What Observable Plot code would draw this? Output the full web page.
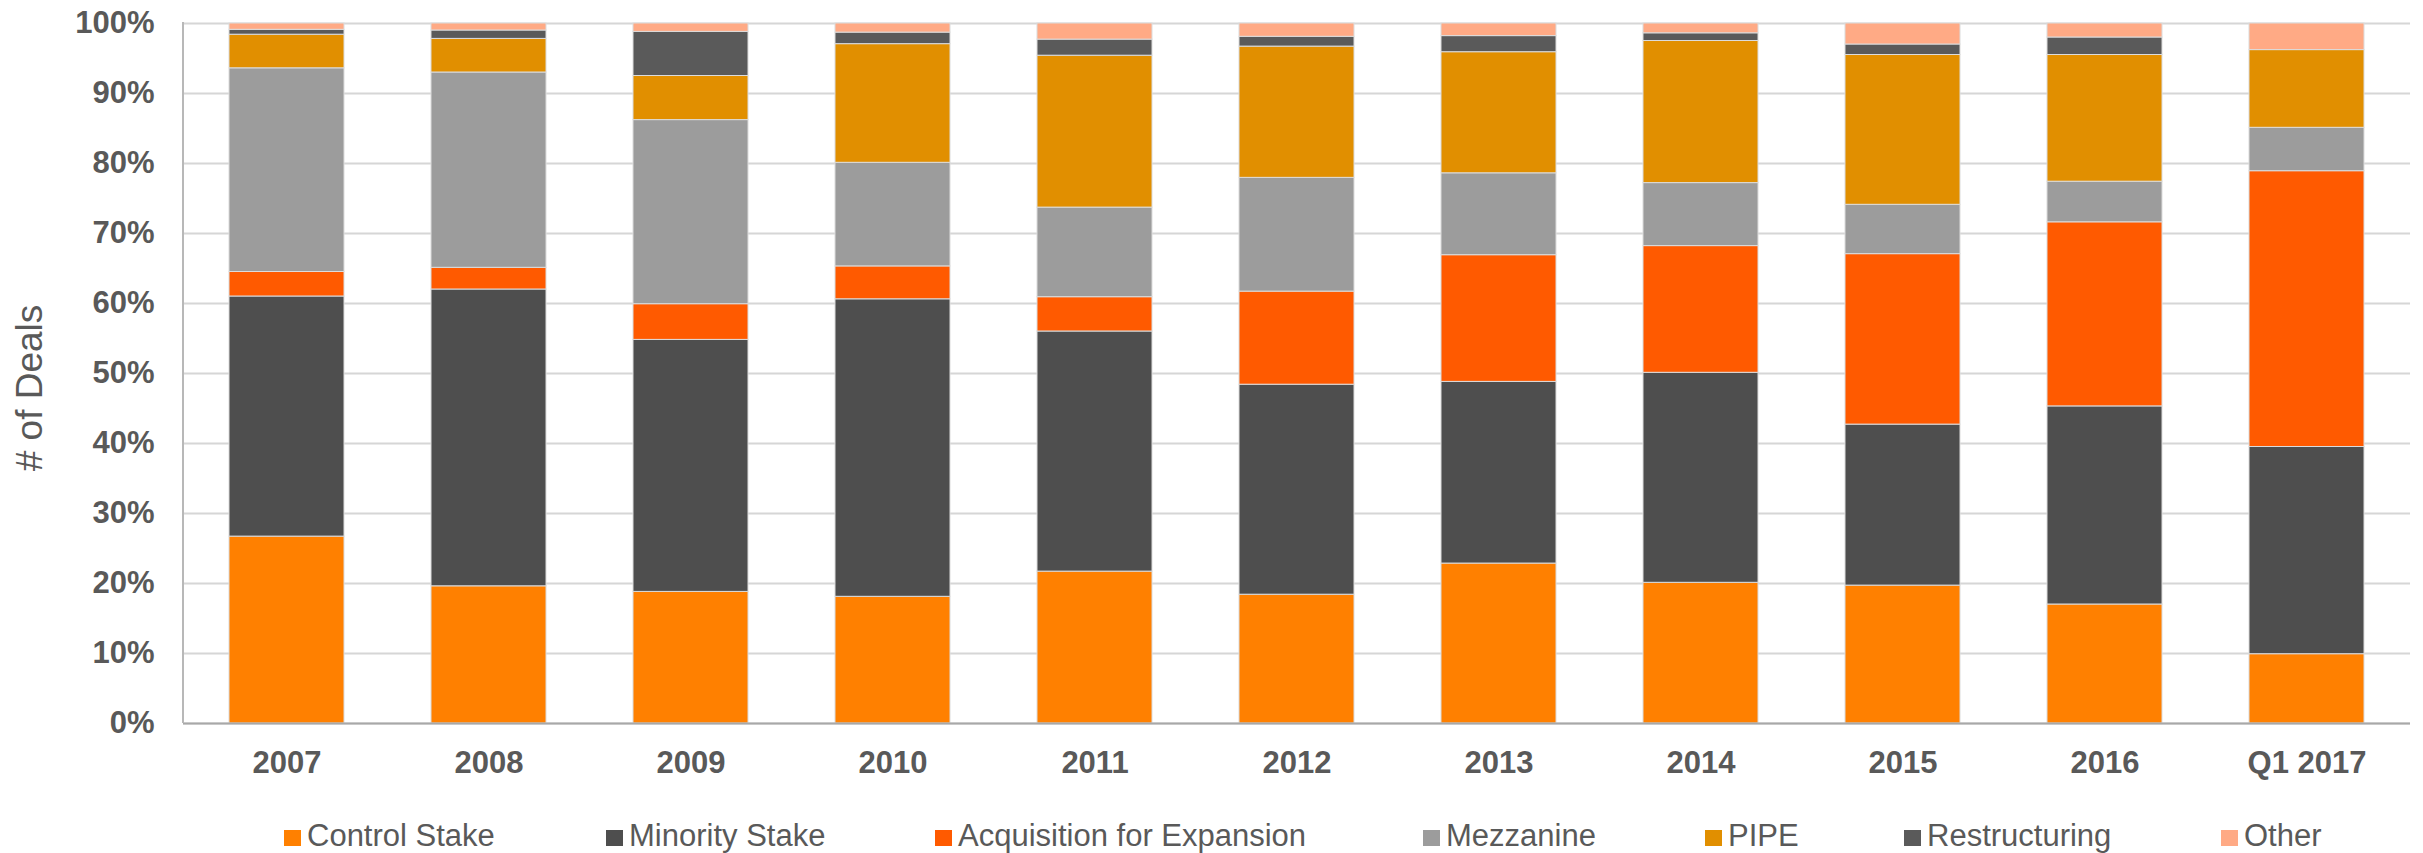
<!DOCTYPE html>
<html><head><meta charset="utf-8">
<script src="https://cdn.jsdelivr.net/npm/d3@7"></script>
<script src="https://cdn.jsdelivr.net/npm/@observablehq/plot@0.6"></script>
<style>
body{margin:0;background:#fff;}
#wrap{position:relative;width:2423px;height:853px;overflow:hidden;font-family:"Liberation Sans",Arial,sans-serif;background:#fff;}
#chart{position:absolute;left:0;top:0;}
#ytitle{position:absolute;left:29px;top:388px;transform:translate(-50%,-50%) rotate(-90deg);font-size:37px;color:#595959;white-space:nowrap;line-height:1;}
.leg{position:absolute;top:820px;display:flex;align-items:flex-start;font-size:31px;color:#595959;white-space:nowrap;line-height:1;}
.sw{width:17px;height:16px;margin-right:6px;margin-top:10px;}
</style></head>
<body>
<div id="wrap">
  <div id="chart"></div>
  <div id="ytitle"># of Deals</div>
  <div id="legend"></div>
</div>
<script>
const categories = ["2007","2008","2009","2010","2011","2012","2013","2014","2015","2016","Q1 2017"];
const seriesNames = ["Control Stake","Minority Stake","Acquisition for Expansion","Mezzanine","PIPE","Restructuring","Other"];
const seriesColors = ["#FF8000","#4E4E4E","#FF5A00","#9C9C9C","#E18F00","#5A5A5A","#FFAA85"];
const controlStake  = [26.7, 19.6, 18.8, 18.1, 21.7, 18.4, 22.85, 20.1, 19.7, 17.0, 9.9];
const minorityStake = [34.3, 42.4, 36.0, 42.5, 34.3, 30.0, 25.95, 30.0, 23.0, 28.3, 29.6];
const acquisition   = [3.5, 3.1, 5.1, 4.7, 4.9, 13.3, 18.1, 18.1, 24.35, 26.3, 39.4];
const mezzanine     = [29.1, 27.9, 26.3, 14.8, 12.8, 16.25, 11.7, 9.0, 7.05, 5.8, 6.2];
const pipe          = [4.8, 4.8, 6.3, 16.95, 21.7, 18.75, 17.3, 20.3, 21.4, 18.1, 11.1];
const restructuring = [0.7, 1.2, 6.3, 1.65, 2.3, 1.4, 2.3, 1.1, 1.5, 2.5, 0];
const other         = [0.9, 1.0, 1.2, 1.3, 2.3, 1.9, 1.8, 1.4, 3.0, 2.0, 3.8];
const yTicks = [0,10,20,30,40,50,60,70,80,90,100];

const seriesValues = [controlStake, minorityStake, acquisition, mezzanine, pipe, restructuring, other];
const data = seriesNames.flatMap((s, si) =>
  categories.map((c, ci) => ({category: c, series: s, value: seriesValues[si][ci]}))
).filter(d => d.value > 0);

const W = 2423, H = 800, mL = 183, mR = 13, mT = 23, mB = 77;

const chart = Plot.plot({
  width: W, height: H,
  marginLeft: mL, marginRight: mR, marginTop: mT, marginBottom: mB,
  style: {fontFamily: "'Liberation Sans', Arial, sans-serif", fontSize: "31px", fontWeight: "bold", color: "#595959", background: "#fff"},
  x: {domain: categories, paddingInner: 0.43, paddingOuter: 0.215, label: null},
  y: {domain: [0, 100], label: null},
  color: {domain: seriesNames, range: seriesColors},
  marks: [
    Plot.gridY(yTicks, {stroke: "#d6d6d6", strokeOpacity: 1, strokeWidth: 2}),
    Plot.barY(data, {x: "category", y: "value", fill: "series", order: seriesNames, stroke: "#dcdcdc", strokeWidth: 1}),
    Plot.ruleY([0], {stroke: "#a8a8a8", strokeWidth: 2}),
    Plot.axisY(yTicks, {tickSize: 0, tickPadding: 29, tickFormat: d => d + "%", fontWeight: "bold", label: null}),
    Plot.axisX({tickSize: 0, tickPadding: 27, fontWeight: "bold", label: null})
  ]
});
document.getElementById("chart").appendChild(chart);

// left axis line along the frame edge
d3.select(chart).append("line")
  .attr("x1", mL).attr("x2", mL)
  .attr("y1", mT - 1).attr("y2", H - mB)
  .attr("stroke", "#b8b8b8").attr("stroke-width", 2);

// legend
const legendLeft = [284, 606, 935, 1423, 1705, 1904, 2221];
const leg = document.getElementById("legend");
seriesNames.forEach((s, i) => {
  const item = document.createElement("div");
  item.className = "leg";
  item.style.left = legendLeft[i] + "px";
  const sw = document.createElement("div");
  sw.className = "sw";
  sw.style.background = seriesColors[i];
  const t = document.createElement("span");
  t.textContent = s;
  item.appendChild(sw); item.appendChild(t);
  leg.appendChild(item);
});
</script>
</body></html>
